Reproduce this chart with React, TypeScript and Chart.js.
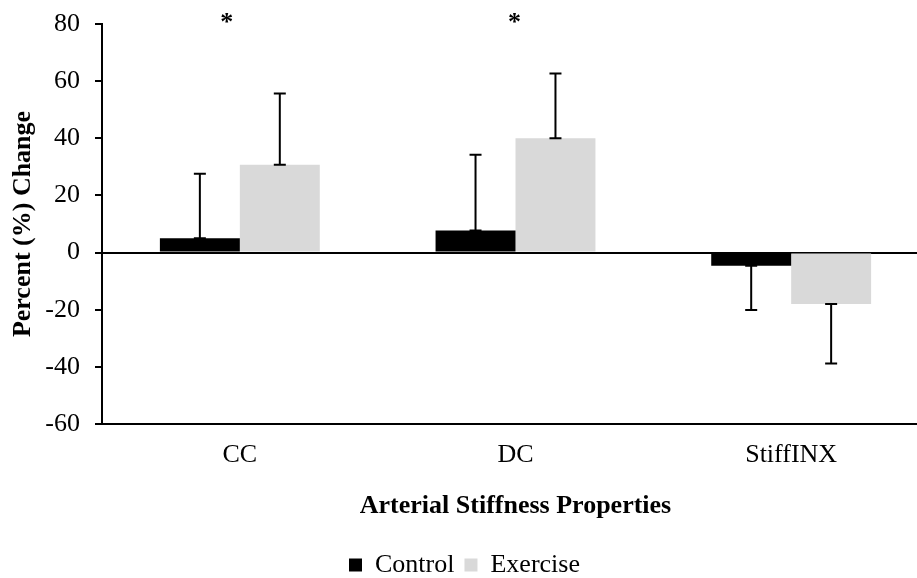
import React, { useEffect, useRef } from "react";
import { Chart, registerables } from "chart.js";

Chart.register(...registerables);

const categories = ["CC", "DC", "StiffINX"];
const controlValues = [5.0, 7.7, -4.6];
const exerciseValues = [30.7, 40.0, -18.0];
const controlErrors = [22.6, 26.5, 15.5];
const exerciseErrors = [25.0, 22.7, 20.8];
const significance = ["*", "*", ""];
const yTicks = [-60, -40, -20, 0, 20, 40, 60, 80];

const FONT = "'Liberation Serif', 'Times New Roman', serif";

const errorBarPlugin = {
  id: "errorBars",
  afterDatasetsDraw(chart: any) {
    const ctx = chart.ctx;
    const yScale = chart.scales.y;
    const errs = [controlErrors, exerciseErrors];
    ctx.save();
    ctx.strokeStyle = "#000";
    ctx.lineWidth = 2;
    chart.data.datasets.forEach((ds: any, di: number) => {
      const meta = chart.getDatasetMeta(di);
      meta.data.forEach((bar: any, i: number) => {
        const v = ds.data[i];
        const e = errs[di][i];
        const end = v >= 0 ? v + e : v - e;
        const x = bar.x;
        const y0 = yScale.getPixelForValue(v);
        const y1 = yScale.getPixelForValue(end);
        ctx.beginPath();
        ctx.moveTo(x, y0);
        ctx.lineTo(x, y1);
        ctx.moveTo(x - 6, y0);
        ctx.lineTo(x + 6, y0);
        ctx.moveTo(x - 6, y1);
        ctx.lineTo(x + 6, y1);
        ctx.stroke();
      });
    });
    ctx.restore();
  },
};

const asteriskPlugin = {
  id: "asterisks",
  afterDraw(chart: any) {
    const ctx = chart.ctx;
    const xScale = chart.scales.x;
    const nudge = [-13, -1, 0];
    ctx.save();
    ctx.fillStyle = "#000";
    ctx.font = `bold 26px ${FONT}`;
    ctx.textAlign = "center";
    ctx.textBaseline = "alphabetic";
    significance.forEach((s, i) => {
      if (!s) return;
      const x = xScale.getPixelForValue(i) + nudge[i];
      ctx.fillText(s, x, chart.chartArea.top + 6);
    });
    ctx.restore();
  },
};

export default function App() {
  const canvasRef = useRef<HTMLCanvasElement | null>(null);

  useEffect(() => {
    if (!canvasRef.current) return;
    const chart = new Chart(canvasRef.current, {
      type: "bar",
      data: {
        labels: categories,
        datasets: [
          {
            label: "Control",
            data: controlValues,
            backgroundColor: "#000000",
            categoryPercentage: 0.58,
            barPercentage: 1.0,
          },
          {
            label: "Exercise",
            data: exerciseValues,
            backgroundColor: "#d9d9d9",
            categoryPercentage: 0.58,
            barPercentage: 1.0,
          },
        ],
      },
      options: {
        animation: false,
        responsive: true,
        maintainAspectRatio: false,
        layout: { padding: { top: 24, right: 0, left: 0, bottom: 0 } },
        plugins: {
          tooltip: { enabled: false },
          legend: {
            position: "bottom",
            labels: {
              boxWidth: 13,
              boxHeight: 13,
              padding: 10,
              color: "#000",
              font: { family: FONT, size: 26 },
            },
          },
        },
        scales: {
          x: {
            afterFit: (scale: any) => {
              scale.height = 118;
            },
            grid: { display: false },
            border: { display: true, color: "#000", width: 2 },
            ticks: {
              color: "#000",
              padding: 8,
              font: { family: FONT, size: 26 },
            },
            title: {
              display: true,
              text: "Arterial Stiffness Properties",
              color: "#000",
              padding: { top: 0, bottom: 20 },
              font: { family: FONT, size: 26, weight: "bold" },
            },
          },
          y: {
            min: -60,
            max: 80,
            afterBuildTicks: (scale: any) => {
              scale.ticks = yTicks.map((v) => ({ value: v }));
            },
            afterFit: (scale: any) => {
              scale.width = 102;
              scale.paddingTop = 0;
              scale.paddingBottom = 0;
            },
            grid: {
              drawOnChartArea: true,
              color: (c: any) => (c.tick && c.tick.value === 0 ? "#000" : "rgba(0,0,0,0)"),
              tickColor: "#000",
              tickLength: 7,
              lineWidth: 2,
            },
            border: { display: true, color: "#000", width: 2 },
            ticks: {
              color: "#000",
              padding: 15,
              font: { family: FONT, size: 26 },
            },
            title: {
              display: true,
              text: "Percent (%) Change",
              color: "#000",
              padding: { top: 8, bottom: 0 },
              font: { family: FONT, size: 26, weight: "bold" },
            },
          },
        },
      },
      plugins: [errorBarPlugin, asteriskPlugin],
    });
    return () => chart.destroy();
  }, []);

  return (
    <div
      style={{
        position: "fixed",
        left: 0,
        top: 0,
        width: 917,
        height: 578,
        overflow: "hidden",
        background: "#fff",
      }}
    >
      <div style={{ position: "relative", width: 929, height: 588 }}>
        <canvas ref={canvasRef} />
      </div>
    </div>
  );
}
